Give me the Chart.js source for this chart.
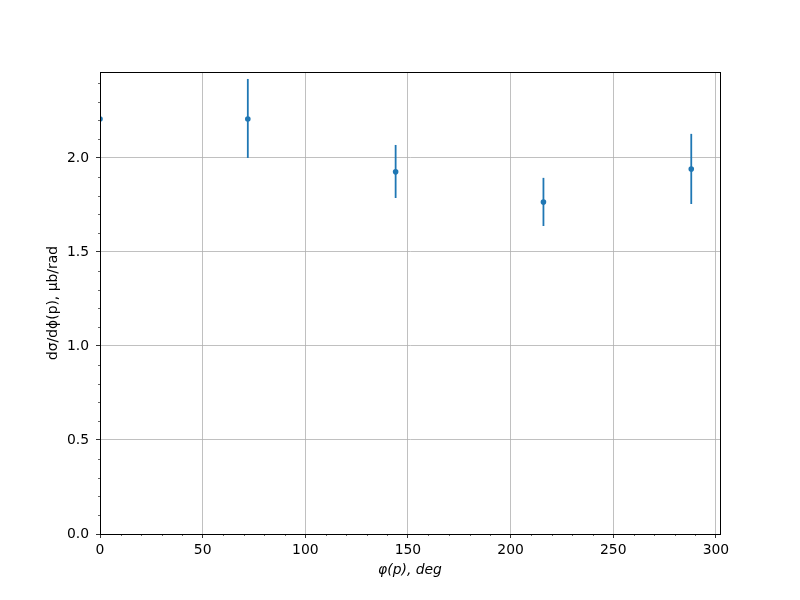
<!DOCTYPE html>
<html>
<head>
<meta charset="utf-8">
<script src="https://cdn.jsdelivr.net/npm/chart.js@4"></script>
<style>
  html, body { margin: 0; padding: 0; background: #fff; }
  #wrap { width: 800px; height: 600px; }
</style>
</head>
<body>
<div id="wrap"><canvas id="chart" width="800" height="600"></canvas></div>
<script>
// phi(p) bins, deg
const phiDeg = [0, 72, 144, 216, 288];
// dsigma/dphi values, ub/rad
const dsigma = [2.207, 2.207, 1.926, 1.766, 1.941];
// error bar ends
const errLow = [2.0, 2.0, 1.787, 1.638, 1.755];
const errHigh = [2.42, 2.42, 2.069, 1.894, 2.128];

// tick labels
const xTicks = [0, 50, 100, 150, 200, 250, 300];
const yTicks = [0, 0.5, 1.0, 1.5, 2.0];

const xMax = 302;
const yMax = 2.457;
const blue = "#1f77b4";
const font = { family: "DejaVu Sans", size: 13.9 };

const errorBars = {
  id: "errorBars",
  beforeDatasetsDraw(chart) {
    const { ctx, chartArea: a, scales: { x, y } } = chart;
    ctx.save();
    ctx.beginPath();
    ctx.rect(a.left, a.top, a.right - a.left, a.bottom - a.top);
    ctx.clip();
    ctx.strokeStyle = blue;
    ctx.lineWidth = 1.8;
    phiDeg.forEach((p, i) => {
      const px = x.getPixelForValue(p);
      ctx.beginPath();
      ctx.moveTo(px, y.getPixelForValue(errLow[i]));
      ctx.lineTo(px, y.getPixelForValue(errHigh[i]));
      ctx.stroke();
    });
    ctx.restore();
  },
};

const frameAndMinor = {
  id: "frameAndMinor",
  afterDatasetsDraw(chart) {
    const { ctx, chartArea: a, scales: { x, y } } = chart;
    ctx.save();
    ctx.strokeStyle = "#000";
    ctx.lineWidth = 0.6;
    ctx.beginPath();
    // minor ticks, x every 10, y every 0.1
    for (let i = 1; i * 10 <= xMax; i++) {
      if (i % 5 === 0) continue;
      const px = Math.round(x.getPixelForValue(i * 10)) + 0.5;
      ctx.moveTo(px, a.bottom);
      ctx.lineTo(px, a.bottom + 2);
    }
    for (let i = 1; i / 10 <= yMax; i++) {
      if (i % 5 === 0) continue;
      const py = Math.round(y.getPixelForValue(i / 10)) + 0.5;
      ctx.moveTo(a.left, py);
      ctx.lineTo(a.left - 2, py);
    }
    ctx.stroke();
    ctx.lineWidth = 1;
    ctx.strokeRect(Math.round(a.left) + 0.5, Math.round(a.top) + 0.5,
      Math.round(a.right - a.left), Math.round(a.bottom - a.top));
    ctx.restore();
  },
};

const gridOpts = {
  color: "#b0b0b0",
  lineWidth: 0.8,
  tickColor: "#000",
  tickLength: 4,
  tickWidth: 0.8,
};

new Chart(document.getElementById("chart"), {
  type: "scatter",
  data: {
    datasets: [
      {
        data: phiDeg.map((p, i) => ({ x: p, y: dsigma[i] })),
        backgroundColor: blue,
        borderColor: blue,
        pointRadius: 2.8,
        pointBorderWidth: 0,
        clip: 0,
      },
    ],
  },
  options: {
    responsive: false,
    animation: false,
    layout: { padding: { left: 0, top: 72, right: 80, bottom: 0 } },
    plugins: { legend: { display: false }, tooltip: { enabled: false } },
    scales: {
      x: {
        type: "linear",
        min: 0,
        max: xMax,
        afterFit(s) { s.height = 66; },
        afterBuildTicks(s) { s.ticks = xTicks.map((v) => ({ value: v })); },
        ticks: {
          padding: 4,
          color: "#000",
          font,
          maxRotation: 0,
          autoSkip: false,
          callback: (v) => String(v),
        },
        grid: gridOpts,
        border: { display: true, color: "#000", width: 1 },
        title: {
          display: true,
          text: "φ(p), deg",
          color: "#000",
          font: { ...font, style: "italic" },
          padding: { top: 0, bottom: 21 },
        },
      },
      y: {
        type: "linear",
        min: 0,
        max: yMax,
        afterFit(s) { s.width = 100; },
        afterBuildTicks(s) { s.ticks = yTicks.map((v) => ({ value: v })); },
        ticks: {
          padding: 7,
          color: "#000",
          font,
          autoSkip: false,
          callback: (v) => v.toFixed(1),
        },
        grid: gridOpts,
        border: { display: true, color: "#000", width: 1 },
        title: {
          display: true,
          text: "dσ/dϕ(p), μb/rad",
          color: "#000",
          font,
          padding: { top: 45, bottom: 0 },
        },
      },
    },
  },
  plugins: [errorBars, frameAndMinor],
});
</script>
</body>
</html>
